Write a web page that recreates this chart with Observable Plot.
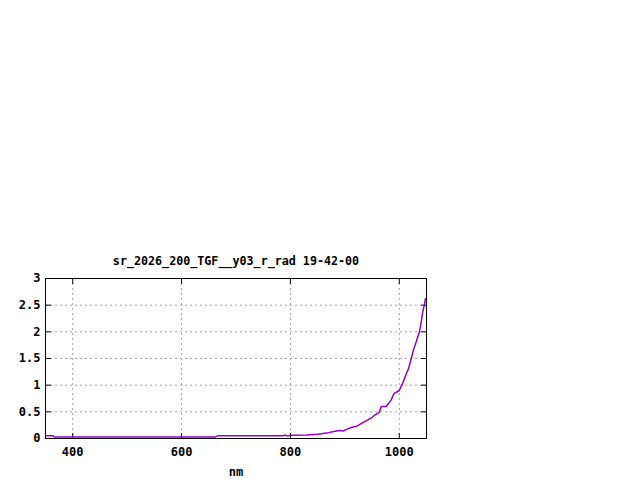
<!DOCTYPE html>
<html>
<head>
<meta charset="utf-8">
<script src="https://cdn.jsdelivr.net/npm/d3@7"></script>
<script src="https://cdn.jsdelivr.net/npm/@observablehq/plot@0.6"></script>
<style>
  html, body { margin: 0; padding: 0; background: #fff; }
  #chart svg { display: block; }
</style>
</head>
<body>
<div id="chart"></div>
<script>
const titleText = "sr_2026_200_TGF__y03_r_rad 19-42-00";
const xLabel = "nm";
const wavelength = [350,364,366,662,666,786,790,795,800,830,850,870,880,890,897,905,913,922,930,939,948,955,963,967,976,985,990,1000,1006,1012,1017,1022,1026,1031,1037,1040,1043,1046,1048];
const radiance   = [0.05,0.05,0.03,0.03,0.05,0.05,0.065,0.045,0.06,0.065,0.08,0.11,0.13,0.15,0.14,0.18,0.21,0.23,0.28,0.33,0.38,0.44,0.49,0.6,0.6,0.72,0.84,0.9,1.03,1.19,1.31,1.5,1.66,1.81,2.0,2.16,2.37,2.5,2.62];
const xTicks = [400, 600, 800, 1000];
const xTickLabels = ["400", "600", "800", "1000"];
const yTicks = [0, 0.5, 1, 1.5, 2, 2.5, 3];
const yTickLabels = ["0", "0.5", "1", "1.5", "2", "2.5", "3"];

const data = wavelength.map((w, i) => ({w, r: radiance[i]}));
const tickShape = {draw(ctx, l) { ctx.moveTo(0, 0); ctx.lineTo(0, -l); }};
const tickOpts = {length: 5, anchor: "start", shape: tickShape, stroke: "black", strokeWidth: 1};

const chart = Plot.plot({
  width: 640,
  height: 480,
  marginLeft: 45,
  marginRight: 214,
  marginTop: 278,
  marginBottom: 42,
  style: {fontFamily: "'DejaVu Sans Mono', monospace", fontSize: "12px", fontWeight: "bold", color: "black", background: "white"},
  x: {domain: [350, 1050]},
  y: {domain: [0, 3]},
  marks: [
    Plot.gridX(xTicks, {stroke: "#a0a0a0", strokeOpacity: 1, strokeDasharray: "2,3"}),
    Plot.gridY(yTicks, {stroke: "#a0a0a0", strokeOpacity: 1, strokeDasharray: "2,3"}),
    Plot.vector(yTicks, {y: d => d, frameAnchor: "left", rotate: 90, ...tickOpts}),
    Plot.vector(yTicks, {y: d => d, frameAnchor: "right", rotate: -90, ...tickOpts}),
    Plot.vector(xTicks, {x: d => d, frameAnchor: "bottom", rotate: 0, ...tickOpts}),
    Plot.vector(xTicks, {x: d => d, frameAnchor: "top", rotate: 180, ...tickOpts}),
    Plot.axisX(xTicks, {tickSize: 0, tickPadding: 9, label: null, fill: "black", tickFormat: (d, i) => xTickLabels[i]}),
    Plot.axisY(yTicks, {tickSize: 0, tickPadding: 5, label: null, fill: "black", tickFormat: (d, i) => yTickLabels[i]}),
    Plot.line(data, {x: "w", y: "r", stroke: "#9400d3", strokeWidth: 1.5}),
    Plot.frame({stroke: "black", strokeWidth: 1}),
    Plot.text([titleText], {text: d => d, frameAnchor: "top", dy: -22, fill: "black", fontSize: 11.7}),
    Plot.text([xLabel], {text: d => d, frameAnchor: "bottom", dy: 37, fill: "black"})
  ]
});
document.getElementById("chart").appendChild(chart);
</script>
</body>
</html>
